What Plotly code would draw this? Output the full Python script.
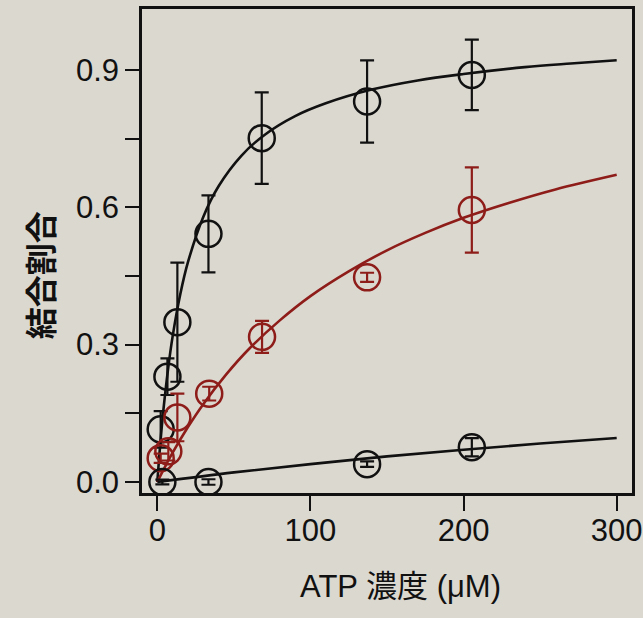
import plotly.graph_objects as go

# --- data ---
# upper black series (points + error)
x_hi = [2.2, 6.6, 13.1, 33.4, 68.2, 137, 205.4]
y_hi = [0.115, 0.230, 0.349, 0.542, 0.751, 0.831, 0.889]
e_hi = [0.04, 0.04, 0.13, 0.084, 0.10, 0.09, 0.077]

# red series
x_red = [2.2, 7.2, 13.1, 33.9, 68.4, 137, 205.4]
y_red = [0.052, 0.067, 0.141, 0.193, 0.317, 0.447, 0.594]
e_red = [0.01, 0.02, 0.052, 0.015, 0.035, 0.01, 0.093]

# lower black series
x_lo = [3.3, 33.4, 137, 205.4]
y_lo = [0.0, 0.0, 0.039, 0.076]
e_lo = [0.005, 0.006, 0.006, 0.02]

# fitted curves
cx_hi = [0, 2, 4, 7, 10, 15, 20, 30, 40, 55, 70, 90, 110, 140, 170, 200, 240, 270, 300]
cy_hi = [0, 0.086, 0.158, 0.246, 0.318, 0.410, 0.480, 0.579, 0.646, 0.713, 0.758,
         0.799, 0.827, 0.857, 0.877, 0.891, 0.906, 0.914, 0.921]
cx_red = [0, 5, 10, 20, 30, 45, 60, 80, 100, 125, 150, 175, 200, 230, 260, 300]
cy_red = [0, 0.033, 0.064, 0.120, 0.170, 0.235, 0.291, 0.353, 0.406, 0.460, 0.506,
          0.544, 0.577, 0.610, 0.639, 0.671]
cx_lo = [0, 50, 100, 150, 200, 250, 300]
cy_lo = [0, 0.021, 0.039, 0.056, 0.0705, 0.084, 0.096]

x_ticks = [0, 100, 200, 300]
y_ticks = [0.0, 0.15, 0.3, 0.45, 0.6, 0.75, 0.9]
y_ticktext = ["0.0", "", "0.3", "", "0.6", "", "0.9"]

BLACK = "#111111"
RED = "#8e1c19"
BG = "#dbd8d0"

fig = go.Figure()

for cx, cy, col in [(cx_hi, cy_hi, BLACK), (cx_red, cy_red, RED), (cx_lo, cy_lo, BLACK)]:
    fig.add_trace(go.Scatter(x=cx, y=cy, mode="lines", line=dict(color=col, width=2.6, shape="spline"),
                             hoverinfo="skip", showlegend=False))

for x, y, e, col in [(x_hi, y_hi, e_hi, BLACK), (x_red, y_red, e_red, RED), (x_lo, y_lo, e_lo, BLACK)]:
    fig.add_trace(go.Scatter(
        x=x, y=y, mode="markers",
        marker=dict(symbol="circle-open", size=26, color=col, line=dict(width=2.5, color=col)),
        error_y=dict(type="data", array=e, visible=True, color=col, thickness=2.2, width=7),
        showlegend=False))

fig.update_xaxes(range=[-10, 310], tickvals=x_ticks, ticks="outside", ticklen=15, tickwidth=2.2,
                 tickcolor=BLACK, showline=True, linecolor=BLACK, linewidth=2.6, mirror=True,
                 showgrid=False, zeroline=False, automargin=False, ticklabelstandoff=-7,
                 tickfont=dict(family="Liberation Sans, Arial", size=31, color=BLACK))
fig.update_yaxes(range=[-0.024, 1.033], tickvals=y_ticks, ticktext=y_ticktext, ticks="outside",
                 ticklen=14, tickwidth=2.2, tickcolor=BLACK, showline=True, linecolor=BLACK,
                 linewidth=2.6, mirror=True, showgrid=False, zeroline=False, automargin=False,
                 tickfont=dict(family="Liberation Sans, Arial", size=31, color=BLACK))

fig.add_annotation(text="ATP 濃度 (μM)", xref="paper", yref="paper", x=0.527, y=-0.194,
                   xanchor="center", yanchor="middle", showarrow=False,
                   font=dict(family="Liberation Sans, Noto Sans CJK JP", size=31, color=BLACK))
fig.add_annotation(text="<b>結合割合</b>", xref="paper", yref="paper", x=-0.210, y=0.45,
                   xanchor="center", yanchor="middle", showarrow=False, textangle=-90,
                   font=dict(family="Noto Sans CJK JP", size=32, color=BLACK))

fig.update_layout(width=643, height=618, margin=dict(l=142, r=11, t=9, b=125),
                  paper_bgcolor=BG, plot_bgcolor=BG)

fig.write_html("out.html")
